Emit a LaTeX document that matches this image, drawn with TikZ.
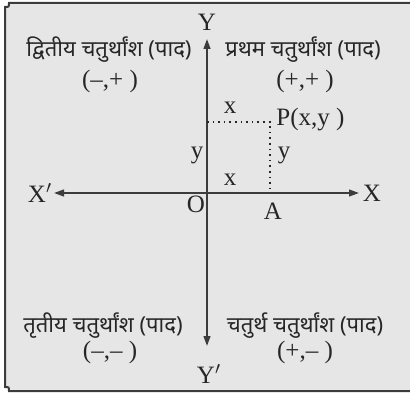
\documentclass[tikz,border=0pt]{standalone}
\usepackage{fontspec}
\setmainfont{Liberation Serif}
\newfontfamily\devfont[Script=Devanagari]{Noto Sans}
\usetikzlibrary{arrows.meta}
\definecolor{PanelGray}{HTML}{E6E6E6}
\definecolor{EdgeGray}{HTML}{3C3C3C}
\definecolor{InkDark}{HTML}{262626}

\begin{document}
\begin{tikzpicture}[x=0.5pt, y=-0.5pt,
  axis/.style={draw=EdgeGray, line width=0.9pt,
     {Triangle[length=5pt,width=3.4pt]}-{Triangle[length=5pt,width=3.4pt]}},
  guide/.style={draw=InkDark, line width=0.8pt, dotted},
  lab/.style={inner sep=0pt, text=InkDark, font=\fontsize{12.5}{14}\selectfont},
  quad/.style={inner sep=0pt, text=InkDark, font=\devfont\fontsize{11}{13}\selectfont},
  sign/.style={inner sep=0pt, text=InkDark, font=\fontsize{12.5}{14}\selectfont}]
  \useasboundingbox (0,0) rectangle (410,394);
  % panel with notched corners
  \fill[PanelGray] (410,3) -- (9,3) .. controls (9,7) .. (5,7) -- (5,387)
     .. controls (9,387) .. (9,391) -- (410,391) -- cycle;
  \draw[EdgeGray, line width=1pt] (410,3) -- (9,3) .. controls (9,7) .. (5,7)
     -- (5,387) .. controls (9,387) .. (9,391) -- (410,391);
  % axes
  \coordinate (O) at (207,193);
  \coordinate (xl) at (54,193); \coordinate (xr) at (359,193);
  \coordinate (yt) at (207,39); \coordinate (yb) at (207,346);
  \draw[axis] (xl) -- (xr);
  \draw[axis] (yt) -- (yb);
  \node[lab] (Xp) at (40,193) {X$'$};
  \node[lab] (X) at (372,193) {X};
  \node[lab] (Y) at (207,22) {Y};
  \node[lab] (Yp) at (209,374) {Y$'$};
  \node[lab] (Olab) at (196,204) {O};
  \node[lab] (Alab) at (273,211) {A};
  % point P and its projections
  \coordinate (P) at (270,122); \coordinate (A) at (270,193);
  \coordinate (Py) at (207,122);
  \draw[guide] (Py) -- (P) -- (A);
  \node[lab, anchor=west] (Plab) at (276,120) {P(x,y )};
  \node[lab] (xtop) at (230,108) {x};
  \node[lab] (xbot) at (230,180) {x};
  \node[lab] (yleft) at (197,155) {y};
  \node[lab] (yright) at (284,155) {y};
  % quadrant names
  \node[quad] (q2) at (109,50) {द्वितीय चतुर्थांश (पाद)};
  \node[quad] (q1) at (303,50) {प्रथम चतुर्थांश (पाद)};
  \node[quad] (q3) at (103,326) {तृतीय चतुर्थांश (पाद)};
  \node[quad] (q4) at (305,326) {चतुर्थ चतुर्थांश (पाद)};
  \node[sign] (s2) at (110,81) {(–,+ )};
  \node[sign] (s1) at (305,81) {(+,+ )};
  \node[sign] (s3) at (110,352) {(–,– )};
  \node[sign] (s4) at (305,352) {(+,– )};
\end{tikzpicture}
\end{document}
